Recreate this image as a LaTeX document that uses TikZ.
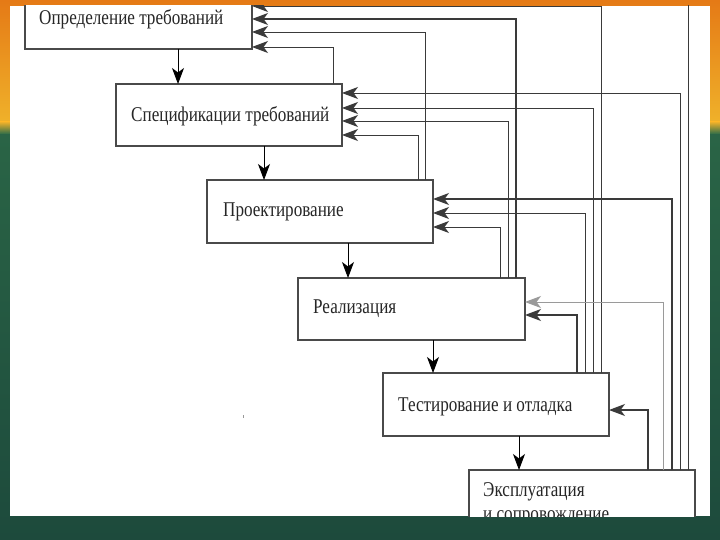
\documentclass[tikz,border=0pt]{standalone}
\usepackage{fontspec}
\setmainfont{Liberation Serif}[FakeStretch=0.815]
\usetikzlibrary{arrows.meta}
\definecolor{orangeA}{HTML}{E57A16}
\definecolor{yellowA}{HTML}{EFB12A}
\definecolor{greenA}{HTML}{2E6D49}
\definecolor{greenB}{HTML}{1D4A3C}
\definecolor{lineA}{HTML}{3A3A3A}
\definecolor{lineB}{HTML}{9A9A9A}
\definecolor{boxA}{HTML}{4A4A4A}
\begin{document}
\begin{tikzpicture}[x=1pt,y=-1pt,
  box/.style={draw=boxA, line width=1.3pt, fill=white, rectangle, outer sep=0pt, inner sep=0pt, anchor=north west},
  lbl/.style={anchor=base west, inner sep=0pt, font=\fontsize{21}{25}\selectfont, text=black!85},
  tip/.style={-{Stealth[length=16pt,width=12pt,inset=4.5pt]}},
  fb/.style={tip, draw=lineA, line width=0.9pt},
  fblight/.style={tip, draw=lineB, line width=0.9pt},
  down/.style={tip, draw=black, line width=0.9pt}]
\useasboundingbox (0,0) rectangle (720,540);
% background
\shade[top color=greenA, bottom color=greenB] (0,0) rectangle (720,540);
\shade[top color=orangeA, bottom color=yellowA] (0,0) rectangle (720,122);
\shade[top color=yellowA, bottom color=greenA] (0,122) rectangle (720,134);
\fill[white] (10,6) rectangle (710,516);
\begin{scope}
\clip (10,6) rectangle (710,516);
% boxes
\node[box, minimum width=227pt, minimum height=59pt] (b1) at (25,-10) {};
\node[box, minimum width=226pt, minimum height=62pt] (b2) at (116,84) {};
\node[box, minimum width=226pt, minimum height=63pt] (b3) at (207,180) {};
\node[box, minimum width=227pt, minimum height=62pt] (b4) at (298,278) {};
\node[box, minimum width=226pt, minimum height=63pt] (b5) at (383,373) {};
\node[box, minimum width=226pt, minimum height=90pt] (b6) at (469,470) {};
% labels
\node[lbl] (t1) at (39,25) {Определение требований};
\node[lbl] (t2) at (131,122) {Спецификации требований};
\node[lbl] (t3) at (223,217) {Проектирование};
\node[lbl] (t4) at (313,313) {Реализация};
\node[lbl] (t5) at (398,411) {Тестирование и отладка};
\node[lbl] (t6) at (483,496) {Эксплуатация};
\node[lbl] (t7) at (483,520) {и сопровождение};
% forward arrows
\draw[down] (178,0 |- b1.south) -- (178,0 |- b2.north);
\draw[down] (264,0 |- b2.south) -- (264,0 |- b3.north);
\draw[down] (348,0 |- b3.south) -- (348,0 |- b4.north);
\draw[down] (433,0 |- b4.south) -- (433,0 |- b5.north);
\draw[down] (519,0 |- b5.south) -- (519,0 |- b6.north);
% feedback from b2
\draw[fb] (333,0 |- b2.north) |- (b1.east |- 0,47);
% feedback from b3
\draw[fb] (418,0 |- b3.north) |- (b2.east |- 0,135);
\draw[fb] (425,0 |- b3.north) |- (b1.east |- 0,32);
% feedback from b4
\draw[fb] (500,0 |- b4.north) |- (b3.east |- 0,227);
\draw[fb] (508,0 |- b4.north) |- (b2.east |- 0,121);
\draw[fb, line width=1.2pt] (516,0 |- b4.north) |- (b1.east |- 0,19);
% feedback from b5
\draw[fb, line width=1.3pt] (577,0 |- b5.north) |- (b4.east |- 0,315);
\draw[fb] (585,0 |- b5.north) |- (b3.east |- 0,213);
\draw[fb] (593,0 |- b5.north) |- (b2.east |- 0,108);
\draw[fb] (601,0 |- b5.north) |- (b1.east |- 0,6);
% feedback from b6
\draw[fb, line width=1.2pt] (648,0 |- b6.north) |- (b5.east |- 0,410);
\draw[fblight] (663,0 |- b6.north) |- (b4.east |- 0,302);
\draw[fb, line width=1.2pt] (672,0 |- b6.north) |- (b3.east |- 0,199);
\draw[fb] (680,0 |- b6.north) |- (b2.east |- 0,93);
\draw[fb] (688,0 |- b6.north) |- (b1.east |- 0,-7);
\fill[black!40] (243,415) rectangle (244.2,417.5);
\end{scope}
\end{tikzpicture}
\end{document}
